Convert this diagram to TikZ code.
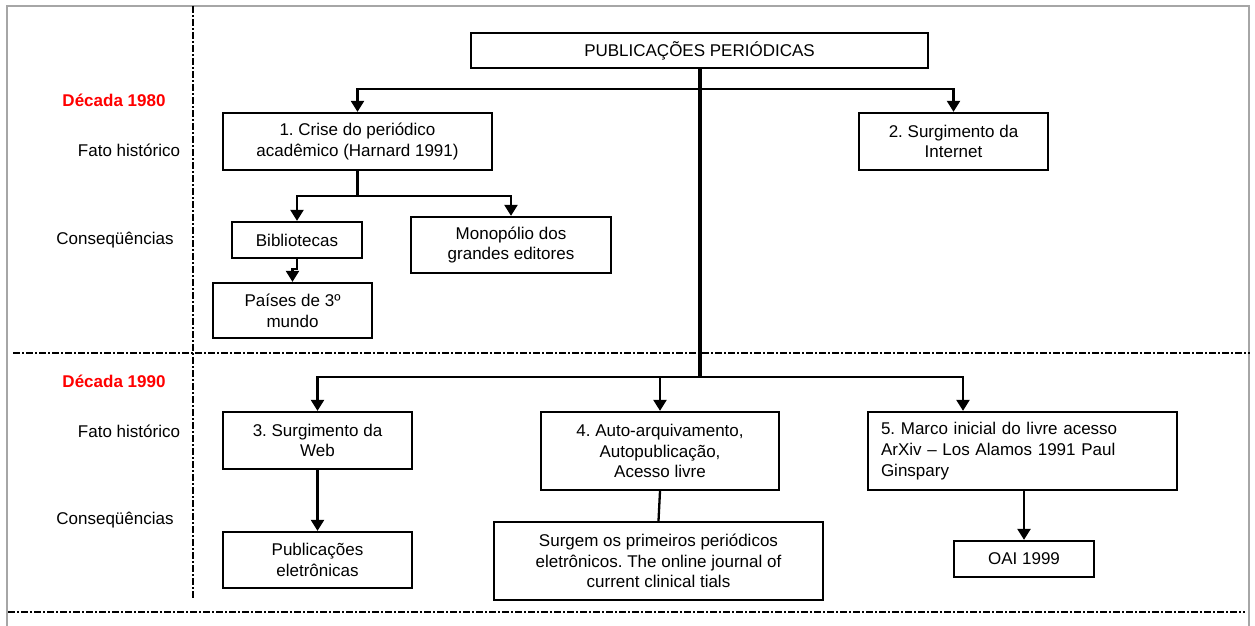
\documentclass[tikz,border=0pt]{standalone}
\usepackage{fontspec}
\setmainfont{Liberation Sans}
\usetikzlibrary{arrows.meta}
\frenchspacing
\begin{document}
\begin{tikzpicture}[x=1pt,y=-1pt,
  box/.style={draw=black,line width=2.3pt,inner sep=0pt,align=center,font=\frenchspacing\fontsize{17}{20.7}\selectfont},
  lbl/.style={inner sep=0pt,font=\fontsize{17}{20.7}\selectfont},
  dec/.style={inner sep=0pt,text=red,font=\fontsize{17}{20.7}\selectfont\bfseries},
  conn/.style={draw=black,line width=2.3pt},
  arr/.style={conn,-{Triangle[width=13pt,length=11pt]}},
  sep/.style={draw=black,line width=2.3pt,dash pattern=on 7pt off 2pt on 2pt off 2pt},
  frame/.style={draw=black!35,line width=2.3pt}]
\useasboundingbox (0,0) rectangle (1255,626);
% outer frame
\draw[frame] (7,630) -- (7,6) -- (1249,6) -- (1249,630);
% separators
\draw[sep] (193,6) -- (193,598);
\draw[sep] (13,353) -- (1250,353);
\draw[sep] (8,612) -- (1245,612);
% left labels
\node[dec] (d80) at (114,100) {Década 1980};
\node[lbl] (f80) at (129,150) {Fato histórico};
\node[lbl] (c80) at (115,240) {Conseqüências};
\node[dec] (d90) at (114,381) {Década 1990};
\node[lbl] (f90) at (129,431) {Fato histórico};
\node[lbl] (c90) at (115,520) {Conseqüências};
% boxes
\node[box,minimum width=457pt,minimum height=35pt] (top) at (699.5,50.5) {PUBLICAÇÕES PERIÓDICAS};
\node[box,minimum width=269pt,minimum height=57pt] (b1) at (357.5,141.5) {1. Crise do periódico\\acadêmico (Harnard 1991)};
\node[box,minimum width=189pt,minimum height=57pt] (b2) at (953.5,141.5) {2. Surgimento da\\Internet};
\node[box,minimum width=130pt,minimum height=36pt] (bib) at (297,240) {Bibliotecas};
\node[box,minimum width=200pt,minimum height=56pt] (mono) at (511,245) {Monopólio dos\\grandes editores};
\node[box,minimum width=159pt,minimum height=55pt] (paises) at (292.5,310.5) {Países de 3º\\mundo};
\node[box,minimum width=189pt,minimum height=57pt] (b3) at (317.5,440.5) {3. Surgimento da\\Web};
\node[box,minimum width=189pt,minimum height=56pt] (pub) at (317.5,560) {Publicações\\eletrônicas};
\node[box,minimum width=238pt,minimum height=78pt] (b4) at (660,451) {4. Auto-arquivamento,\\Autopublicação,\\Acesso livre};
\node[box,minimum width=329pt,minimum height=78pt] (surg) at (658.5,561) {Surgem os primeiros periódicos\\eletrônicos. The online journal of\\current clinical tials};
\node[box,minimum width=309pt,minimum height=78pt,align=left,text width=283pt] (b5) at (1022.5,451) {5. Marco inicial do livre acesso\\ArXiv – Los Alamos 1991 Paul\\Ginspary};
\node[box,minimum width=140pt,minimum height=36pt] (oai) at (1024,559) {OAI 1999};
% junctions
\coordinate (j80) at (699.5,89);
\coordinate (j90) at (699.5,377);
\coordinate (j1) at (357.5,196);
% trunk
\draw[draw=black,line width=4pt] (top.south) -- ([yshift=1.2pt]j90);
% 1980 branches
\draw[arr] (j80) -| (b1.north);
\draw[arr] (j80) -| (b2.north);
\draw[conn] (b1.south) -- (j1);
\draw[arr] (j1) -| (bib.north);
\draw[arr] (j1) -| (mono.north);
\draw[arr] (bib.south) -- ++(0,10) -| (paises.north);
% 1990 branches
\draw[arr] (j90) -| (b3.north);
\draw[arr] (j90) -| (b4.north);
\draw[arr] (j90) -| ([xshift=-59.5pt]b5.north);
\draw[arr] (b3.south) -- (pub.north);
\draw[conn] (b4.south) -- (surg.north);
\draw[arr] (oai.north |- b5.south) -- (oai.north);
\end{tikzpicture}
\end{document}
